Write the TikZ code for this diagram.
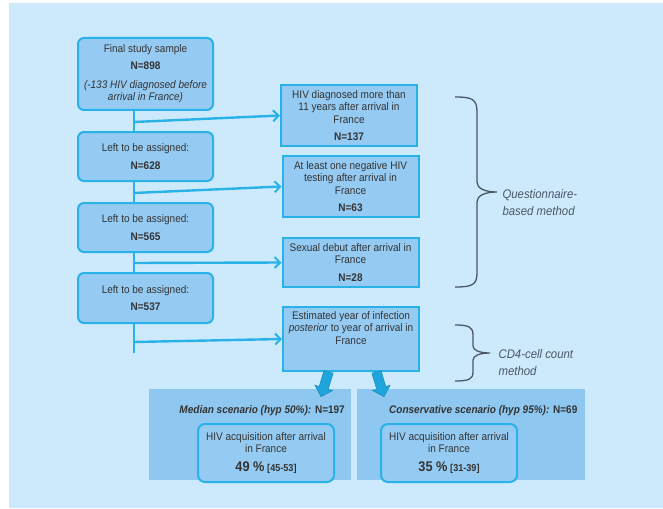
\documentclass[tikz,border=0pt]{standalone}
\usepackage{fontspec}
\setmainfont{Liberation Sans}[FakeStretch=0.91]
\usetikzlibrary{arrows.meta,shapes.arrows}
\definecolor{bg}{HTML}{CDEAFC}
\definecolor{boxfill}{HTML}{95CBF2}
\definecolor{boxline}{HTML}{29B2E8}
\definecolor{panel}{HTML}{8EC8F1}
\definecolor{txt}{HTML}{333333}
\definecolor{bracec}{HTML}{4A5866}
\definecolor{fat}{HTML}{1EA5DC}
\begin{document}
\begin{tikzpicture}[x=1pt,y=-1pt,
  font=\fontsize{11}{12.5}\selectfont, text=txt,
  lbox/.style={draw=boxline, line width=2pt, fill=boxfill, rounded corners=6pt,
    minimum width=135pt, align=center, inner sep=0pt},
  rbox/.style={draw=boxline, line width=2pt, fill=boxfill,
    minimum width=136pt, align=center, inner sep=0pt},
  ibox/.style={draw=boxline, line width=2pt, fill=boxfill, rounded corners=7pt,
    minimum width=136pt, minimum height=58pt, align=center, inner sep=0pt},
  panelbox/.style={fill=panel, inner sep=0pt, minimum height=91pt},
  trunkline/.style={draw=boxline, line width=2.6pt},
  flow/.style={draw=boxline, line width=2.4pt, -{Straight Barb[length=5.5pt,width=11pt,line width=2pt]}},
  bracel/.style={draw=bracec, line width=1.3pt},
  bracetxt/.style={anchor=west, align=left, font=\fontsize{12.5}{17}\selectfont\itshape, text=bracec},
  fatarrow/.style={single arrow, fill=fat, draw=fat!85!black, line width=0.5pt,
    minimum height=26pt, inner xsep=0pt, inner ysep=4.5pt, single arrow head extend=4.5pt,
    single arrow head indent=0pt}
]
\useasboundingbox (0,0) rectangle (663,508);
\fill[white] (0,0) rectangle (663,508);
\fill[bg] (9,3) rectangle (663,508);

% left column
\node[lbox, minimum height=72pt] (b1) at (145.5,74)
  {Final study sample\\[4.5pt]\textbf{N=898}\\[6pt]\textit{(-133 HIV diagnosed before}\\\textit{arrival in France)}};
\node[lbox, minimum height=49pt] (b2) at (145.5,156.5)
  {Left to be assigned:\\[5pt]\textbf{N=628}};
\node[lbox, minimum height=49pt] (b3) at (145.5,227.5)
  {Left to be assigned:\\[5pt]\textbf{N=565}};
\node[lbox, minimum height=50pt] (b4) at (145.5,298)
  {Left to be assigned:\\[5pt]\textbf{N=537}};

% right column
\node[rbox, minimum height=61pt] (r1) at (349,115.5)
  {HIV diagnosed more than\\11 years after arrival in\\France\\[5pt]\textbf{N=137}};
\node[rbox, minimum height=61pt] (r2) at (350.5,186.5)
  {At least one negative HIV\\testing after arrival in\\France\\[5pt]\textbf{N=63}};
\node[rbox, minimum height=49pt] (r3) at (350.5,262.5)
  {Sexual debut after arrival in\\France\\[5pt]\textbf{N=28}};
\node[rbox, minimum height=64pt] (r4) at (351,339) {};
\node[anchor=north, align=center, inner sep=0pt] (r4t) at ([yshift=-5pt]r4.north)
  {Estimated year of infection\\\textit{posterior} to year of arrival in\\France};

% trunk
\coordinate (tx) at (134,0);
\coordinate (a1) at (134,122);
\coordinate (a2) at (134,193);
\coordinate (a3) at (134,263);
\coordinate (a4) at (134,342);
\coordinate (tend) at (134,353);
\draw[trunkline] (b1.south -| tx) -- (b2.north -| tx);
\draw[trunkline] (b2.south -| tx) -- (b3.north -| tx);
\draw[trunkline] (b3.south -| tx) -- (b4.north -| tx);
\draw[trunkline] (b4.south -| tx) -- (tend);
\draw[flow] (a1) -- (r1.west);
\draw[flow] (a2) -- (r2.west);
\draw[flow] (a3) -- (r3.west);
\draw[flow] (a4) -- (r4.west);

% braces
\draw[bracel] (455,97) .. controls (472,97) and (477,99) .. (477,112) -- (477,182)
  .. controls (477,188) and (484,192) .. (497,192)
  .. controls (484,192) and (477,196) .. (477,202) -- (477,273)
  .. controls (477,285) and (472,287) .. (455,287);
\node[bracetxt] (q) at (499,202.5) {Questionnaire-\\based method};
\draw[bracel] (455,325) .. controls (469,325) and (473,327) .. (473,335) -- (473,346)
  .. controls (473,350) and (479,353) .. (490,353)
  .. controls (479,353) and (473,356) .. (473,360) -- (473,372)
  .. controls (473,379) and (469,381) .. (455,381);
\node[bracetxt] (c) at (495,362.5) {CD4-cell count\\method};

% bottom panels
\node[panelbox, minimum width=202pt] (p1) at (250,434.5) {};
\node[panelbox, minimum width=228pt] (p2) at (471,434.5) {};
\node[anchor=east, inner sep=0pt] (p1t) at (345,411)
  {\textbf{\textit{Median scenario (hyp 50\%):}} \textbf{N=197}};
\node[anchor=west, inner sep=0pt] (p2t) at (389,411)
  {\textbf{\textit{Conservative scenario (hyp 95\%):}} \textbf{N=69}};
\node[ibox] (i1) at (266,453)
  {HIV acquisition after arrival\\in France\\[6pt]{\fontsize{14}{14}\selectfont\bfseries 49 \%} {\fontsize{10}{10}\selectfont\bfseries [45-53]}};
\node[ibox] (i2) at (449,453)
  {HIV acquisition after arrival\\in France\\[6pt]{\fontsize{14}{14}\selectfont\bfseries 35 \%} {\fontsize{10}{10}\selectfont\bfseries [31-39]}};

% fat arrows
\node[fatarrow, rotate=-107] (f1) at (325.5,382) {};
\node[fatarrow, rotate=-73] (f2) at (379.5,382) {};
\end{tikzpicture}
\end{document}
